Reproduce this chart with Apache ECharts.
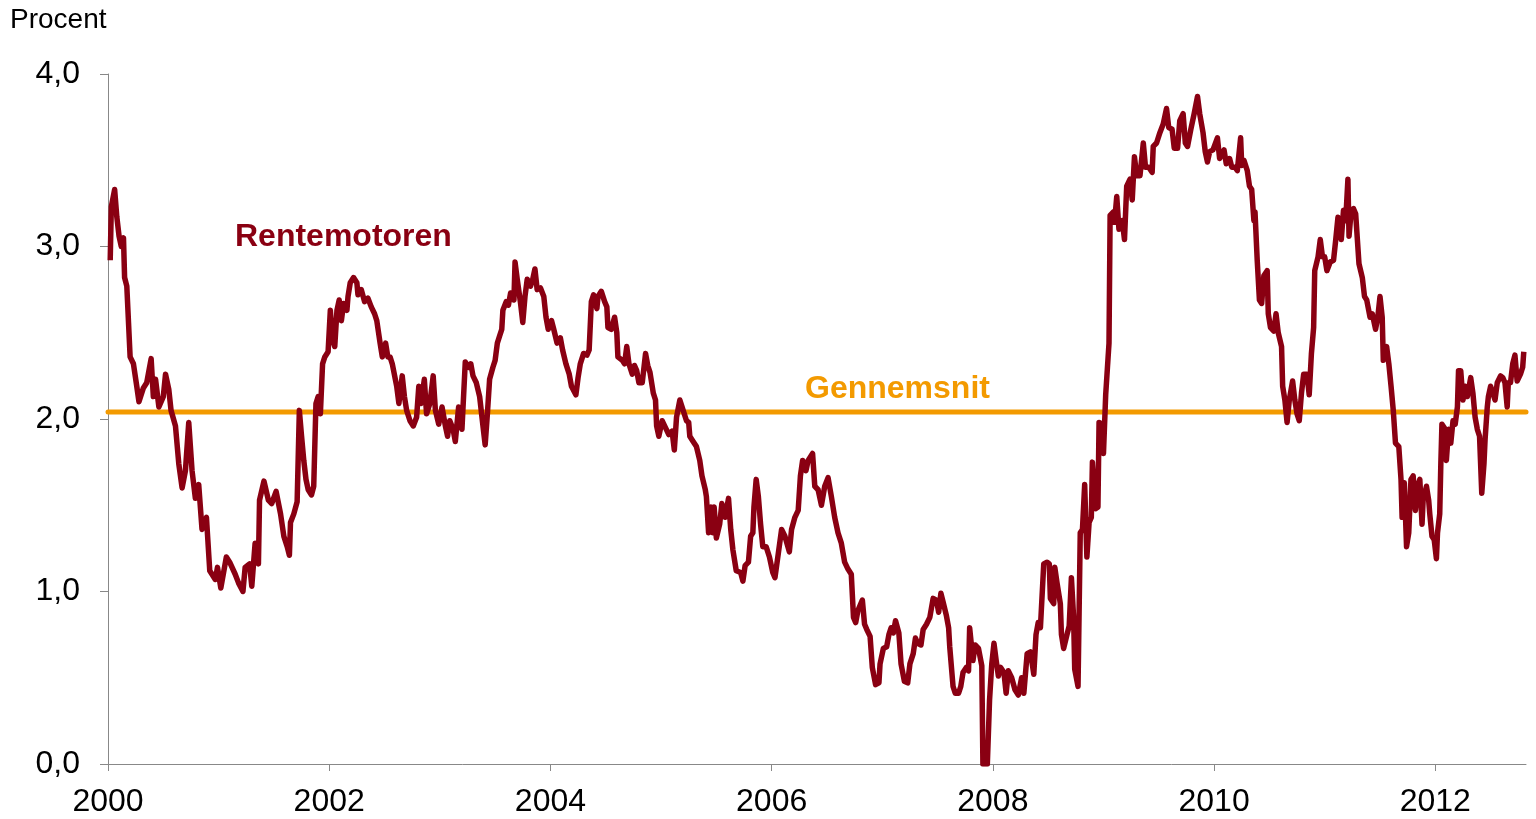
<!DOCTYPE html>
<html>
<head>
<meta charset="utf-8">
<script src="https://cdn.jsdelivr.net/npm/echarts@6/dist/echarts.min.js"></script>
<style>
  html, body { margin: 0; padding: 0; background: #fff; }
  #chart { width: 1536px; height: 819px; }
</style>
</head>
<body>
<div id="chart"></div>
<script>
// decimal years and rate values (pct)
const years = [
  2000.02, 2000.03, 2000.06, 2000.08, 2000.10, 2000.12, 2000.14, 2000.15, 2000.17, 2000.20,
  2000.23, 2000.26, 2000.28, 2000.32, 2000.35, 2000.39, 2000.41, 2000.43, 2000.46, 2000.50,
  2000.52, 2000.55, 2000.57, 2000.61, 2000.64, 2000.67, 2000.70, 2000.73, 2000.76, 2000.79,
  2000.82, 2000.85, 2000.89, 2000.92, 2000.97, 2000.99, 2001.02, 2001.07, 2001.10, 2001.15,
  2001.18, 2001.22, 2001.24, 2001.28, 2001.30, 2001.33, 2001.36, 2001.37, 2001.41, 2001.45,
  2001.48, 2001.52, 2001.56, 2001.59, 2001.62, 2001.64, 2001.65, 2001.68, 2001.71, 2001.73,
  2001.75, 2001.77, 2001.79, 2001.81, 2001.84, 2001.86, 2001.88, 2001.90, 2001.92, 2001.94,
  2001.96, 2001.99, 2002.01, 2002.03, 2002.05, 2002.07, 2002.09, 2002.11, 2002.13, 2002.16,
  2002.17, 2002.19, 2002.22, 2002.25, 2002.26, 2002.29, 2002.32, 2002.35, 2002.38, 2002.41,
  2002.43, 2002.46, 2002.48, 2002.51, 2002.53, 2002.55, 2002.57, 2002.61, 2002.63, 2002.66,
  2002.68, 2002.70, 2002.73, 2002.76, 2002.79, 2002.81, 2002.83, 2002.86, 2002.88, 2002.91,
  2002.94, 2002.96, 2002.99, 2003.02, 2003.05, 2003.07, 2003.09, 2003.12, 2003.14, 2003.17,
  2003.20, 2003.23, 2003.26, 2003.28, 2003.30, 2003.33, 2003.36, 2003.39, 2003.41, 2003.43,
  2003.45, 2003.48, 2003.50, 2003.52, 2003.54, 2003.56, 2003.57, 2003.60, 2003.62, 2003.64,
  2003.67, 2003.68, 2003.70, 2003.73, 2003.75, 2003.77, 2003.79, 2003.82, 2003.84, 2003.86,
  2003.88, 2003.91, 2003.94, 2003.96, 2003.98, 2004.01, 2004.03, 2004.06, 2004.09, 2004.11,
  2004.14, 2004.17, 2004.19, 2004.23, 2004.25, 2004.27, 2004.30, 2004.33, 2004.35, 2004.37,
  2004.39, 2004.42, 2004.43, 2004.46, 2004.49, 2004.51, 2004.52, 2004.55, 2004.58, 2004.60,
  2004.61, 2004.65, 2004.67, 2004.69, 2004.71, 2004.74, 2004.76, 2004.78, 2004.80, 2004.83,
  2004.86, 2004.88, 2004.90, 2004.93, 2004.95, 2004.96, 2004.98, 2005.01, 2005.04, 2005.07,
  2005.10, 2005.12, 2005.14, 2005.17, 2005.20, 2005.23, 2005.25, 2005.26, 2005.29, 2005.32,
  2005.35, 2005.37, 2005.40, 2005.41, 2005.43, 2005.45, 2005.47, 2005.48, 2005.50, 2005.53,
  2005.55, 2005.58, 2005.61, 2005.63, 2005.65, 2005.68, 2005.72, 2005.74, 2005.76, 2005.79,
  2005.81, 2005.83, 2005.84, 2005.86, 2005.88, 2005.90, 2005.92, 2005.95, 2005.98, 2006.01,
  2006.03, 2006.06, 2006.09, 2006.12, 2006.16, 2006.18, 2006.21, 2006.24, 2006.26, 2006.28,
  2006.31, 2006.33, 2006.37, 2006.39, 2006.42, 2006.45, 2006.48, 2006.51, 2006.54, 2006.57,
  2006.60, 2006.63, 2006.66, 2006.69, 2006.72, 2006.74, 2006.76, 2006.78, 2006.82, 2006.84,
  2006.86, 2006.89, 2006.91, 2006.94, 2006.97, 2006.98, 2007.01, 2007.04, 2007.06, 2007.08,
  2007.10, 2007.12, 2007.15, 2007.17, 2007.20, 2007.23, 2007.25, 2007.28, 2007.30, 2007.32,
  2007.35, 2007.37, 2007.40, 2007.43, 2007.46, 2007.49, 2007.51, 2007.53, 2007.55, 2007.58,
  2007.60, 2007.61, 2007.64, 2007.66, 2007.69, 2007.71, 2007.73, 2007.76, 2007.78, 2007.79,
  2007.82, 2007.84, 2007.87, 2007.90, 2007.91, 2007.95, 2007.97, 2007.99, 2008.01, 2008.03,
  2008.05, 2008.07, 2008.10, 2008.12, 2008.14, 2008.17, 2008.20, 2008.23, 2008.26, 2008.28,
  2008.31, 2008.34, 2008.37, 2008.39, 2008.41, 2008.43, 2008.46, 2008.49, 2008.51, 2008.52,
  2008.55, 2008.56, 2008.58, 2008.61, 2008.62, 2008.64, 2008.67, 2008.69, 2008.71, 2008.73,
  2008.74, 2008.77, 2008.79, 2008.81, 2008.83, 2008.85, 2008.87, 2008.89, 2008.90, 2008.93,
  2008.95, 2008.96, 2008.99, 2009.00, 2009.02, 2009.05, 2009.06, 2009.09, 2009.10, 2009.12,
  2009.14, 2009.17, 2009.19, 2009.21, 2009.24, 2009.26, 2009.28, 2009.30, 2009.33, 2009.36,
  2009.38, 2009.41, 2009.44, 2009.45, 2009.48, 2009.51, 2009.54, 2009.57, 2009.59, 2009.62,
  2009.64, 2009.67, 2009.69, 2009.72, 2009.74, 2009.76, 2009.79, 2009.82, 2009.85, 2009.87,
  2009.90, 2009.92, 2009.94, 2009.96, 2009.99, 2010.03, 2010.05, 2010.09, 2010.11, 2010.14,
  2010.16, 2010.19, 2010.21, 2010.24, 2010.25, 2010.27, 2010.30, 2010.32, 2010.34, 2010.36,
  2010.37, 2010.39, 2010.41, 2010.43, 2010.45, 2010.48, 2010.49, 2010.51, 2010.54, 2010.56,
  2010.58, 2010.61, 2010.62, 2010.64, 2010.66, 2010.68, 2010.71, 2010.73, 2010.75, 2010.77,
  2010.79, 2010.81, 2010.84, 2010.86, 2010.88, 2010.90, 2010.91, 2010.94, 2010.96, 2010.98,
  2011.00, 2011.02, 2011.03, 2011.05, 2011.08, 2011.10, 2011.12, 2011.15, 2011.17, 2011.19,
  2011.21, 2011.22, 2011.24, 2011.26, 2011.28, 2011.31, 2011.34, 2011.36, 2011.38, 2011.41,
  2011.43, 2011.46, 2011.48, 2011.50, 2011.52, 2011.53, 2011.56, 2011.58, 2011.60, 2011.62,
  2011.64, 2011.67, 2011.69, 2011.70, 2011.72, 2011.74, 2011.76, 2011.78, 2011.80, 2011.82,
  2011.84, 2011.86, 2011.88, 2011.89, 2011.92, 2011.94, 2011.95, 2011.97, 2011.99, 2012.01,
  2012.02, 2012.04, 2012.05, 2012.06, 2012.09, 2012.10, 2012.12, 2012.14, 2012.16, 2012.18,
  2012.20, 2012.21, 2012.23, 2012.25, 2012.27, 2012.29, 2012.32, 2012.34, 2012.36, 2012.38,
  2012.40, 2012.42, 2012.44, 2012.45, 2012.47, 2012.48, 2012.50, 2012.52, 2012.54, 2012.56,
  2012.59, 2012.61, 2012.63, 2012.65, 2012.66, 2012.68, 2012.70, 2012.72, 2012.74, 2012.77,
  2012.79, 2012.80
];
const rates = [
  2.92, 3.23, 3.33, 3.17, 3.06, 3.00, 3.05, 2.82, 2.77, 2.36,
  2.32, 2.19, 2.10, 2.18, 2.21, 2.35, 2.13, 2.23, 2.07, 2.13,
  2.26, 2.17, 2.05, 1.96, 1.74, 1.60, 1.70, 1.98, 1.70, 1.54,
  1.62, 1.36, 1.43, 1.12, 1.07, 1.14, 1.02, 1.20, 1.17, 1.10,
  1.05, 1.00, 1.14, 1.16, 1.03, 1.28, 1.16, 1.53, 1.64, 1.53,
  1.51, 1.58, 1.45, 1.32, 1.26, 1.21, 1.40, 1.45, 1.52, 2.05,
  1.90, 1.76, 1.65, 1.59, 1.56, 1.61, 2.09, 2.13, 2.03, 2.32,
  2.36, 2.39, 2.63, 2.46, 2.42, 2.63, 2.69, 2.57, 2.67, 2.63,
  2.71, 2.79, 2.82, 2.79, 2.72, 2.75, 2.68, 2.70, 2.65, 2.61,
  2.57, 2.44, 2.36, 2.44, 2.36, 2.36, 2.32, 2.19, 2.09, 2.25,
  2.13, 2.05, 1.99, 1.96, 2.01, 2.19, 2.09, 2.23, 2.03, 2.09,
  2.25, 2.05, 1.97, 2.07, 1.96, 1.90, 1.99, 1.94, 1.87, 2.07,
  1.94, 2.33, 2.30, 2.32, 2.25, 2.21, 2.13, 1.96, 1.85, 2.03,
  2.23, 2.30, 2.34, 2.44, 2.48, 2.52, 2.63, 2.68, 2.66, 2.73,
  2.69, 2.91, 2.81, 2.67, 2.56, 2.71, 2.81, 2.77, 2.81, 2.87,
  2.75, 2.76, 2.71, 2.59, 2.52, 2.57, 2.52, 2.44, 2.47, 2.40,
  2.32, 2.26, 2.19, 2.14, 2.24, 2.32, 2.38, 2.37, 2.40, 2.68,
  2.72, 2.64, 2.71, 2.74, 2.68, 2.65, 2.53, 2.52, 2.59, 2.50,
  2.36, 2.34, 2.32, 2.42, 2.32, 2.26, 2.31, 2.28, 2.21, 2.21,
  2.38, 2.31, 2.27, 2.15, 2.11, 1.96, 1.90, 1.99, 1.95, 1.91,
  1.93, 1.82, 2.01, 2.11, 2.05, 1.99, 1.98, 1.90, 1.87, 1.84,
  1.76, 1.67, 1.59, 1.55, 1.34, 1.49, 1.34, 1.49, 1.31, 1.39,
  1.51, 1.43, 1.54, 1.36, 1.24, 1.12, 1.11, 1.06, 1.15, 1.17,
  1.32, 1.34, 1.49, 1.65, 1.55, 1.39, 1.26, 1.26, 1.20, 1.11,
  1.08, 1.22, 1.36, 1.32, 1.23, 1.36, 1.43, 1.47, 1.67, 1.76,
  1.70, 1.76, 1.80, 1.61, 1.59, 1.50, 1.61, 1.66, 1.55, 1.43,
  1.34, 1.28, 1.17, 1.13, 1.10, 0.85, 0.82, 0.89, 0.95, 0.81,
  0.78, 0.74, 0.56, 0.46, 0.47, 0.58, 0.67, 0.68, 0.75, 0.79,
  0.76, 0.83, 0.76, 0.58, 0.48, 0.47, 0.58, 0.64, 0.73, 0.70,
  0.69, 0.78, 0.81, 0.85, 0.96, 0.95, 0.88, 0.99, 0.94, 0.86,
  0.79, 0.68, 0.45, 0.41, 0.41, 0.45, 0.53, 0.56, 0.54, 0.79,
  0.60, 0.69, 0.67, 0.57, 0.00, 0.00, 0.37, 0.58, 0.70, 0.60,
  0.51, 0.56, 0.53, 0.41, 0.54, 0.50, 0.43, 0.40, 0.50, 0.41,
  0.64, 0.65, 0.52, 0.75, 0.82, 0.79, 1.16, 1.17, 1.16, 0.96,
  0.93, 1.14, 1.05, 0.93, 0.75, 0.67, 0.75, 0.80, 1.08, 0.85,
  0.55, 0.45, 1.34, 1.36, 1.62, 1.20, 1.40, 1.43, 1.75, 1.48,
  1.49, 1.98, 1.97, 1.80, 2.14, 2.44, 3.18, 3.20, 3.14, 3.29,
  3.10, 3.15, 3.04, 3.35, 3.39, 3.27, 3.52, 3.41, 3.41, 3.60,
  3.46, 3.46, 3.43, 3.58, 3.60, 3.66, 3.71, 3.80, 3.69, 3.68,
  3.57, 3.57, 3.73, 3.77, 3.60, 3.58, 3.68, 3.77, 3.87, 3.77,
  3.66, 3.55, 3.49, 3.55, 3.56, 3.63, 3.51, 3.56, 3.48, 3.51,
  3.46, 3.46, 3.44, 3.63, 3.47, 3.50, 3.44, 3.35, 3.33, 3.15,
  3.20, 2.92, 2.69, 2.67, 2.83, 2.86, 2.61, 2.53, 2.51, 2.61,
  2.50, 2.42, 2.19, 2.11, 1.98, 2.11, 2.22, 2.11, 2.03, 1.99,
  2.15, 2.26, 2.26, 2.14, 2.38, 2.53, 2.86, 2.94, 3.04, 2.94,
  2.94, 2.86, 2.85, 2.91, 2.92, 3.04, 3.17, 3.04, 3.21, 3.15,
  3.39, 3.06, 3.21, 3.22, 3.19, 2.90, 2.82, 2.71, 2.69, 2.59,
  2.61, 2.52, 2.59, 2.71, 2.59, 2.34, 2.42, 2.32, 2.19, 2.05,
  1.86, 1.84, 1.65, 1.43, 1.63, 1.26, 1.34, 1.65, 1.67, 1.47,
  1.61, 1.65, 1.39, 1.53, 1.61, 1.53, 1.45, 1.32, 1.30, 1.19,
  1.34, 1.45, 1.74, 1.97, 1.94, 1.76, 1.94, 1.86, 1.99, 1.97,
  2.07, 2.28, 2.28, 2.11, 2.19, 2.13, 2.24, 2.15, 2.01, 1.94,
  1.90, 1.57, 1.74, 1.88, 2.07, 2.13, 2.19, 2.15, 2.11, 2.21,
  2.25, 2.24, 2.21, 2.07, 2.21, 2.21, 2.32, 2.37, 2.22, 2.26,
  2.30, 2.39
];
const avgYears = [2000, 2012.82];
const avgValue = 2.04;
const yTicks = [0, 1, 2, 3, 4];
const xTicks = [2000, 2002, 2004, 2006, 2008, 2010, 2012];

const rateData = years.map((y, i) => [y, rates[i]]);
const avgData = avgYears.map(y => [y, avgValue]);

const FONT = 'Liberation Sans, Arial, sans-serif';

const chart = echarts.init(document.getElementById('chart'));
chart.setOption({
  animation: false,
  grid: { left: 108, right: 10, top: 74, bottom: 55, containLabel: false },
  xAxis: {
    type: 'value',
    min: 2000,
    max: 2012.82,
    splitLine: { show: false },
    axisLine: { lineStyle: { color: '#888', width: 1 } },
    axisTick: { customValues: xTicks, length: 7, lineStyle: { color: '#888' } },
    axisLabel: {
      customValues: xTicks,
      margin: 22,
      color: '#000',
      fontSize: 32,
      fontFamily: FONT,
      formatter: v => String(Math.round(v))
    }
  },
  yAxis: {
    type: 'value',
    min: 0,
    max: 4,
    interval: 1,
    splitLine: { show: false },
    axisLine: { show: true, lineStyle: { color: '#888', width: 1 } },
    axisTick: { show: true, inside: false, length: 8, lineStyle: { color: '#888' } },
    axisLabel: {
      customValues: yTicks,
      margin: 28,
      color: '#000',
      fontSize: 32,
      fontFamily: FONT,
      formatter: v => v.toFixed(1).replace('.', ',')
    }
  },
  graphic: [
    { type: 'text', left: 10, top: 6, style: { text: 'Procent', fill: '#000', fontSize: 28, fontFamily: FONT } },
    { type: 'text', left: 235, top: 221, style: { text: 'Rentemotoren', fill: '#8a0012', fontSize: 32, fontWeight: 'bold', fontFamily: FONT } },
    { type: 'text', left: 805, top: 373, style: { text: 'Gennemsnit', fill: '#f39a00', fontSize: 32, fontWeight: 'bold', fontFamily: FONT } }
  ],
  series: [
    {
      name: 'Gennemsnit',
      type: 'line',
      data: avgData,
      showSymbol: false,
      lineStyle: { color: '#f39a00', width: 5, cap: 'round' },
      z: 2
    },
    {
      name: 'Rentemotoren',
      type: 'line',
      data: rateData,
      showSymbol: false,
      clip: true,
      lineStyle: { color: '#8a0012', width: 5.5, join: 'round' },
      z: 3
    }
  ]
});
</script>
</body>
</html>
